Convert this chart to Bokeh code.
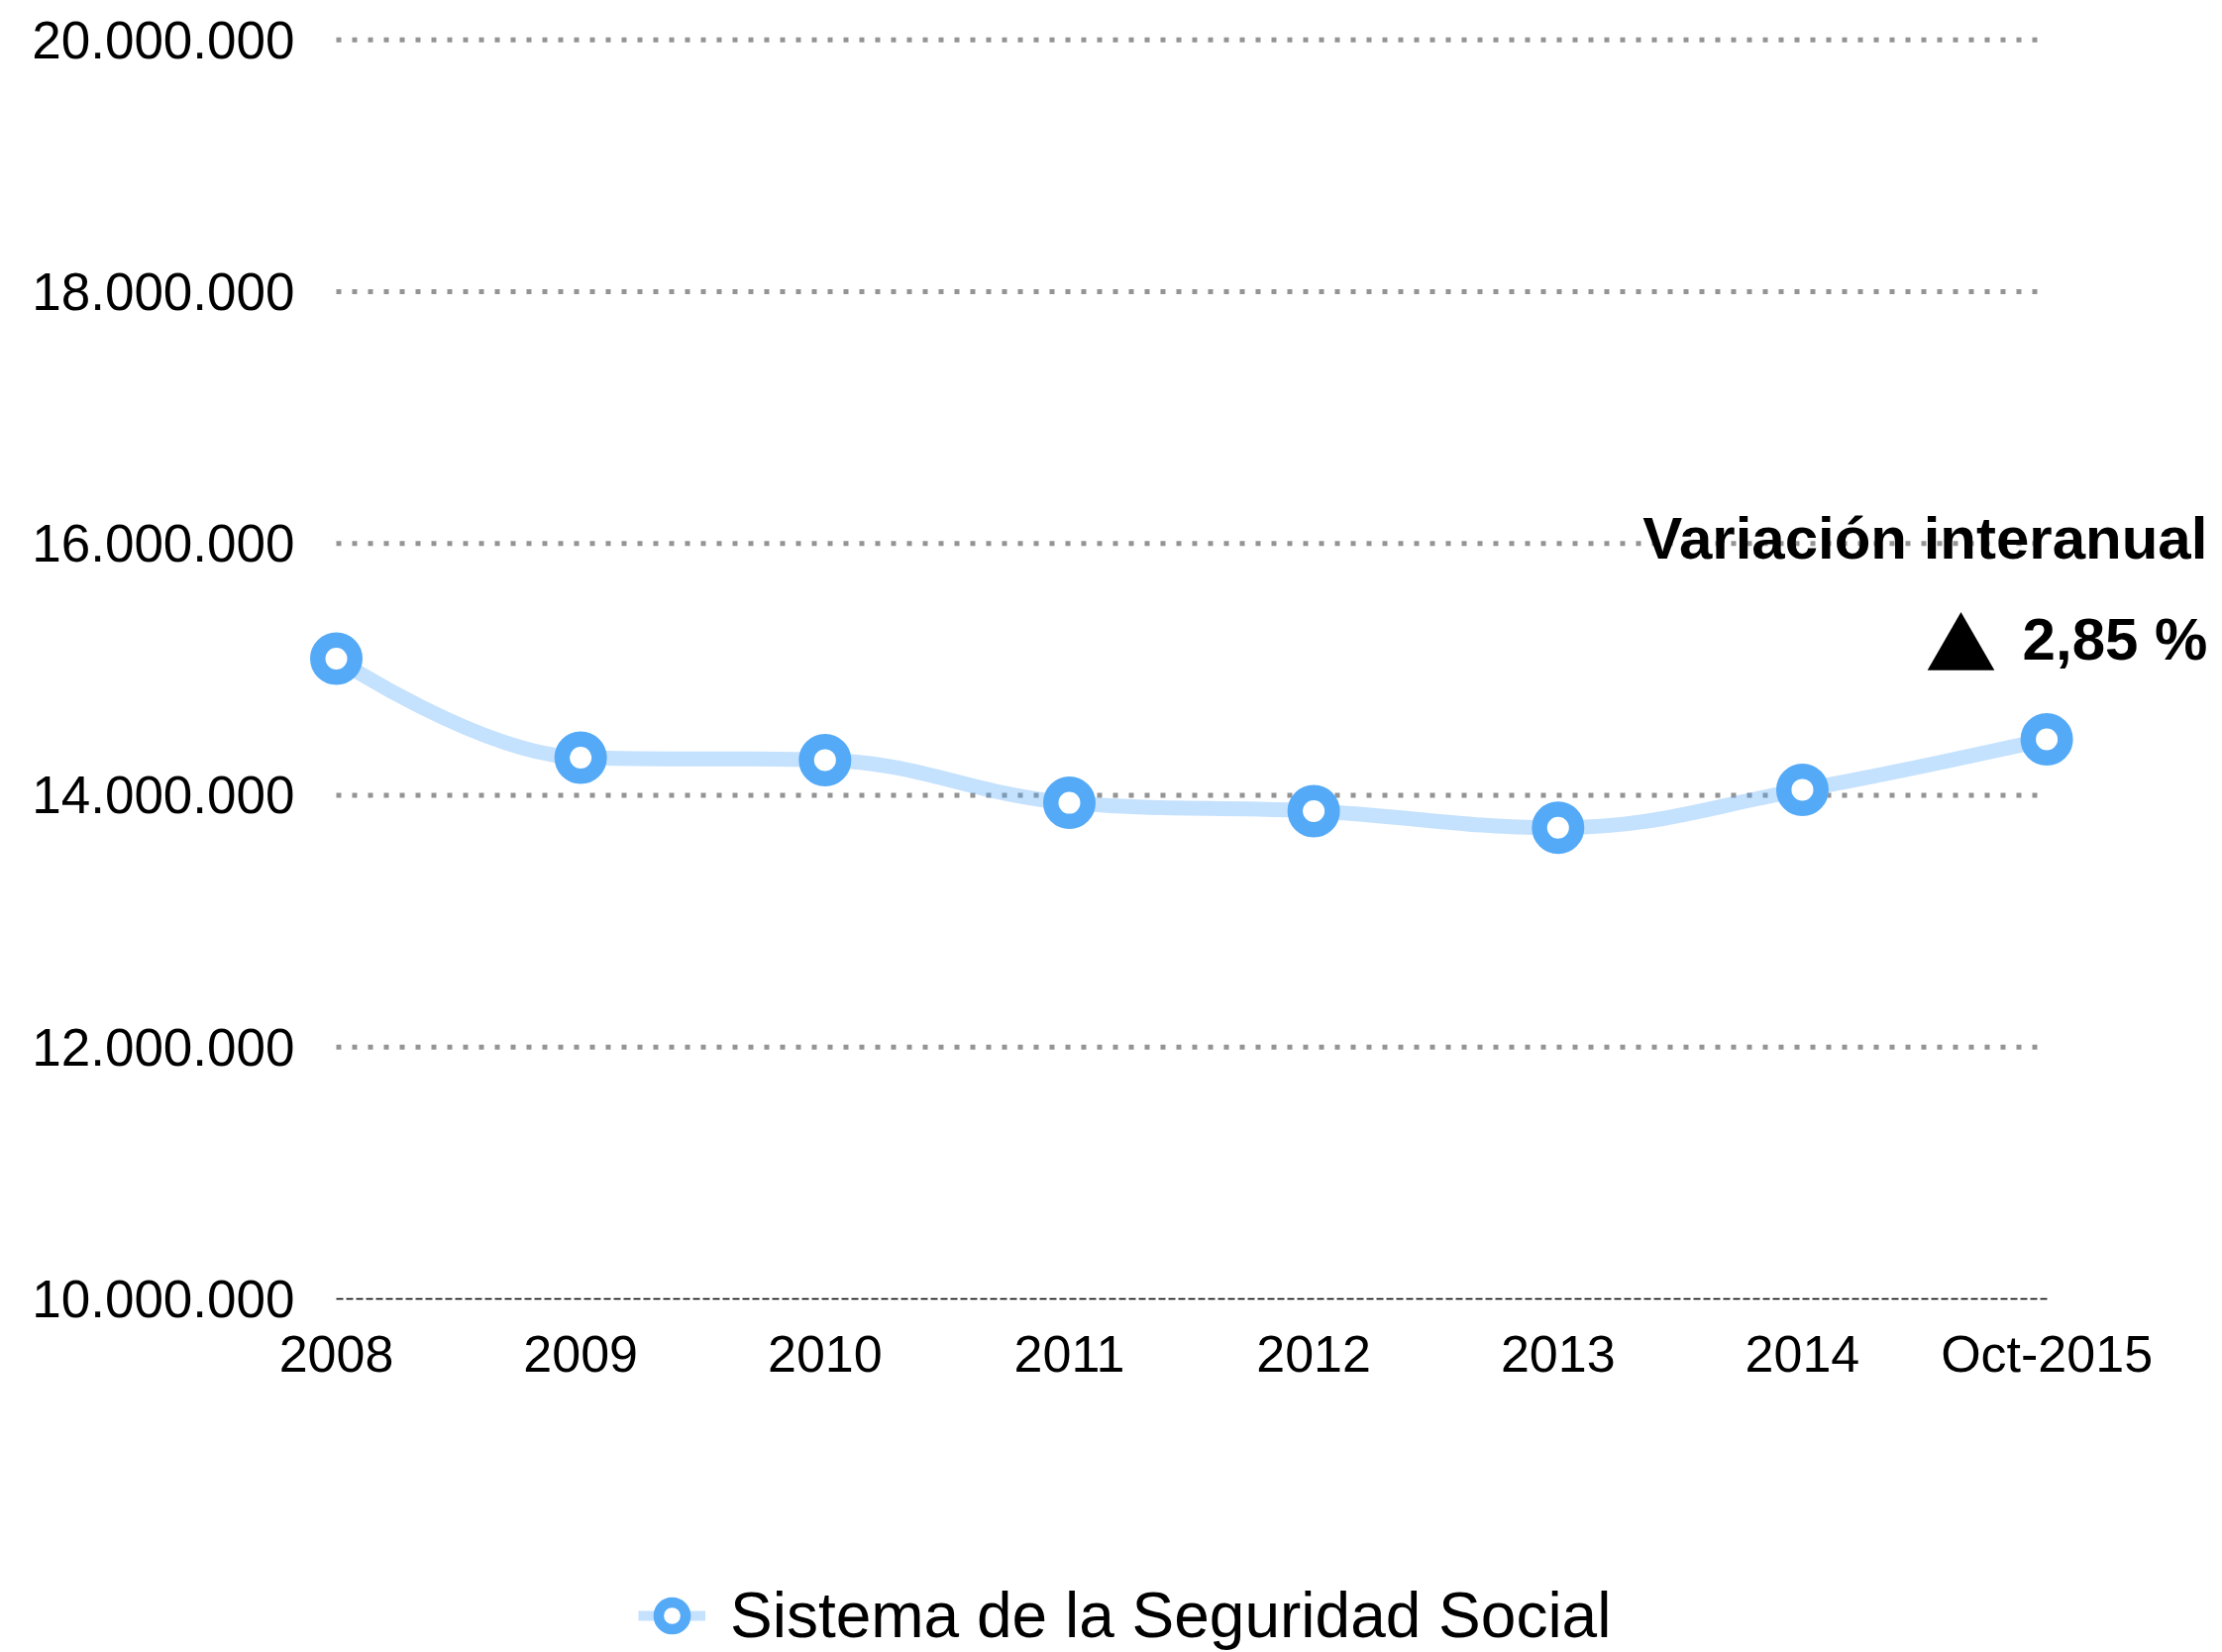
from bokeh.plotting import figure
from bokeh.layouts import column
from bokeh.models import (ColumnDataSource, Range1d, FixedTicker, Label,
                          Legend, LegendItem)
from bokeh.embed import file_html
from bokeh.resources import INLINE

# ---------------- data ----------------
categories = ["2008", "2009", "2010", "2011", "2012", "2013", "2014", "Oct-2015"]
values = [15085000, 14299000, 14280000, 13940000, 13874000, 13743000, 14044000, 14445000]
y_ticks = [10000000, 12000000, 14000000, 16000000, 18000000, 20000000]
y_tick_labels = ["10.000.000", "12.000.000", "14.000.000", "16.000.000",
                 "18.000.000", "20.000.000"]
series_name = "Sistema de la Seguridad Social"
annotation_title = "Variación interanual"
annotation_value = "2,85 %"
annotation_arrow = "▲"

# ---------------- style ----------------
BLUE = "#55AAF8"
FONT = "Liberation Sans"
GRID = "#949494"
W = 2240
LEFT = 309

xs = list(range(len(categories)))


def spline_controls(px, py, smoothing=1.5):
    """Spline control points (Highcharts-style) for consecutive segments."""
    denom = smoothing + 1
    n = len(px)
    left = [(px[i], py[i]) for i in range(n)]
    right = [(px[i], py[i]) for i in range(n)]
    for i in range(1, n - 1):
        lx, ly = px[i - 1], py[i - 1]
        nx, ny = px[i + 1], py[i + 1]
        x, y = px[i], py[i]
        lcx = (smoothing * x + lx) / denom
        lcy = (smoothing * y + ly) / denom
        rcx = (smoothing * x + nx) / denom
        rcy = (smoothing * y + ny) / denom
        corr = 0
        if rcx != lcx:
            corr = ((rcy - lcy) * (rcx - x)) / (rcx - lcx) + y - rcy
        lcy += corr
        rcy += corr
        if lcy > ly and lcy > y:
            lcy = max(ly, y)
            rcy = 2 * y - lcy
        elif lcy < ly and lcy < y:
            lcy = min(ly, y)
            rcy = 2 * y - lcy
        if rcy > ny and rcy > y:
            rcy = max(ny, y)
            lcy = 2 * y - rcy
        elif rcy < ny and rcy < y:
            rcy = min(ny, y)
            lcy = 2 * y - rcy
        left[i] = (lcx, lcy)
        right[i] = (rcx, rcy)
    seg = dict(x0=[], y0=[], x1=[], y1=[], cx0=[], cy0=[], cx1=[], cy1=[])
    for i in range(n - 1):
        seg["x0"].append(px[i]); seg["y0"].append(py[i])
        seg["x1"].append(px[i + 1]); seg["y1"].append(py[i + 1])
        seg["cx0"].append(right[i][0]); seg["cy0"].append(right[i][1])
        seg["cx1"].append(left[i + 1][0]); seg["cy1"].append(left[i + 1][1])
    return seg


p = figure(width=W, height=1460,
           x_range=Range1d(-0.1216, 7.707),
           y_range=Range1d(y_ticks[0], y_ticks[-1] + 100000),
           output_backend="svg", toolbar_location=None,
           min_border_left=LEFT, min_border_right=0,
           min_border_top=27, min_border_bottom=149)
p.outline_line_color = None
p.xgrid.visible = False
p.ygrid.visible = False
p.background_fill_color = "white"
p.border_fill_color = "white"

# dotted horizontal grid lines spanning first..last category
grid_vals = y_ticks[1:]
p.segment(x0=[xs[0]] * len(grid_vals), x1=[xs[-1]] * len(grid_vals),
          y0=grid_vals, y1=grid_vals,
          line_color=GRID, line_width=5, line_dash="5 11")

# smooth series line
curve = ColumnDataSource(spline_controls(xs, values))
p.bezier(x0="x0", y0="y0", x1="x1", y1="y1", cx0="cx0", cy0="cy0",
         cx1="cx1", cy1="cy1", source=curve,
         line_color=BLUE, line_alpha=0.35, line_width=15)

# markers
p.scatter(x=xs, y=values, size=37.5, marker="circle",
          fill_color="white", line_color=BLUE, line_width=15.5)

# axes
p.xaxis.ticker = FixedTicker(ticks=xs)
p.xaxis.major_label_overrides = {i: c for i, c in zip(xs, categories)}
p.xaxis.bounds = (xs[0], xs[-1])
p.xaxis.axis_line_color = "black"
p.xaxis.axis_line_width = 1.5
p.xaxis.axis_line_dash = "7 3"
p.xaxis.major_tick_line_color = None
p.xaxis.minor_tick_line_color = None
p.xaxis.major_label_text_font = FONT
p.xaxis.major_label_text_font_size = "52px"
p.xaxis.major_label_text_color = "black"
p.xaxis.major_label_standoff = 20

p.yaxis.ticker = FixedTicker(ticks=y_ticks)
p.yaxis.major_label_overrides = {v: l for v, l in zip(y_ticks, y_tick_labels)}
p.yaxis.axis_line_color = None
p.yaxis.major_tick_line_color = None
p.yaxis.minor_tick_line_color = None
p.yaxis.major_label_text_font = FONT
p.yaxis.major_label_text_font_size = "53px"
p.yaxis.major_label_text_color = "black"
p.yaxis.major_label_standoff = 6

# annotation
p.add_layout(Label(x=7.658, y=16041000, text=annotation_title,
                   text_align="right", text_baseline="alphabetic",
                   text_font=FONT, text_font_style="bold",
                   text_font_size="60px", text_color="black"))
p.add_layout(Label(x=7.658, y=15239000, text=annotation_value,
                   text_align="right", text_baseline="alphabetic",
                   text_font=FONT, text_font_style="bold",
                   text_font_size="60px", text_color="black"))
p.add_layout(Label(x=6.795, y=15239000, text=annotation_arrow,
                   text_align="right", text_baseline="alphabetic",
                   text_font="Noto Sans CJK JP",
                   text_font_size="72px", text_color="black"))

# legend strip below the chart; its renderers only lend their style to the
# legend keys (their points fall outside this strip's ranges)
lf = figure(width=W, height=208, x_range=Range1d(0, 1), y_range=Range1d(0, 1),
            output_backend="svg", toolbar_location=None,
            x_axis_type=None, y_axis_type=None,
            min_border_left=LEFT, min_border_right=0,
            min_border_top=0, min_border_bottom=0)
lf.outline_line_color = None
lf.background_fill_color = "white"
line_proxy = lf.line(x=xs, y=values, line_color=BLUE, line_alpha=0.35, line_width=10)
marker_proxy = lf.scatter(x=xs, y=values, marker="circle", fill_color="white",
                          line_color=BLUE, line_width=10.5)
legend = Legend(items=[LegendItem(label=series_name,
                                  renderers=[line_proxy, marker_proxy])],
                location=(644 - LEFT, 0), orientation="horizontal",
                padding=0, margin=0, spacing=0,
                glyph_width=68, glyph_height=68, label_standoff=25,
                label_text_font=FONT, label_text_font_size="64px",
                label_text_color="black",
                border_line_color=None, background_fill_alpha=0)
lf.add_layout(legend)

layout = column(p, lf, spacing=0)
open("out.html", "w").write(file_html(layout, INLINE))
